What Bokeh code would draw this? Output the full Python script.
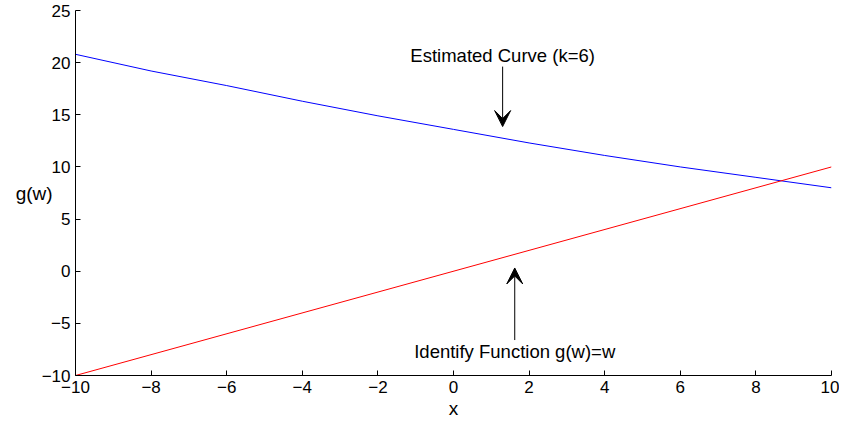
from bokeh.plotting import figure
from bokeh.models import Range1d, FixedTicker, Label, Arrow, VeeHead
from bokeh.embed import file_html
from bokeh.resources import INLINE

# ---- data ----
x_est = [-10, -8, -6, -4, -2, 0, 2, 4, 6, 8, 10]
g_est = [20.8, 19.2, 17.8, 16.3, 14.9, 13.6, 12.3, 11.1, 10.0, 9.0, 8.0]
x_id = [-10, 10]
g_id = [-10, 10]
x_ticks = [-10, -8, -6, -4, -2, 0, 2, 4, 6, 8, 10]
y_ticks = [-10, -5, 0, 5, 10, 15, 20, 25]
est_text = "Estimated Curve (k=6)"
id_text = "Identify Function g(w)=w"

FONT = "Liberation Sans"

p = figure(width=839, height=421, output_backend="svg", toolbar_location=None,
           x_range=Range1d(-10, 10), y_range=Range1d(-10, 25),
           min_border_left=75, min_border_right=8, min_border_top=10, min_border_bottom=40)
p.outline_line_color = None
p.xgrid.visible = False
p.ygrid.visible = False
p.background_fill_color = "white"

p.line(x_est, g_est, line_color="#0000FF", line_width=1)
p.line(x_id, g_id, line_color="#FF0000", line_width=1)

def fmt(v):
    return ("\u2212" + str(abs(v))) if v < 0 else str(v)

for ax, ticks in ((p.xaxis[0], x_ticks), (p.yaxis[0], y_ticks)):
    ax.ticker = FixedTicker(ticks=ticks)
    ax.major_label_overrides = {t: fmt(t) for t in ticks}
    ax.major_tick_in = 5
    ax.major_tick_out = 0
    ax.minor_tick_line_color = None
    ax.axis_line_color = "black"
    ax.major_tick_line_color = "black"
    ax.major_label_text_font = FONT
    ax.major_label_text_font_size = "17px"
    ax.major_label_text_color = "black"
    ax.axis_label_text_font = FONT
    ax.axis_label_text_font_size = "19px"
    ax.axis_label_text_font_style = "normal"
    ax.axis_label_text_color = "black"

p.xaxis.major_label_standoff = 5
p.yaxis.major_label_standoff = 5
p.xaxis.axis_label = "x"
p.xaxis.axis_label_standoff = 2
p.yaxis.axis_label = "g(w)"
p.yaxis.axis_label_orientation = "horizontal"
p.yaxis.axis_label_standoff = -14

p.add_layout(Label(x=1.30, y=20.66, text=est_text, text_align="center", text_baseline="middle",
                   text_font=FONT, text_font_size="18.5px", text_color="black"))
p.add_layout(Arrow(x_start=1.30, y_start=19.62, x_end=1.30, y_end=13.87, line_width=1,
                   line_color="black",
                   end=VeeHead(size=16, fill_color="black", line_color="black")))

p.add_layout(Label(x=1.62, y=-7.71, text=id_text, text_align="center", text_baseline="middle",
                   text_font=FONT, text_font_size="18.5px", text_color="black"))
p.add_layout(Arrow(x_start=1.62, y_start=-6.6, x_end=1.62, y_end=0.31, line_width=1,
                   line_color="black",
                   end=VeeHead(size=16, fill_color="black", line_color="black")))

open("out.html", "w").write(file_html(p, INLINE))
